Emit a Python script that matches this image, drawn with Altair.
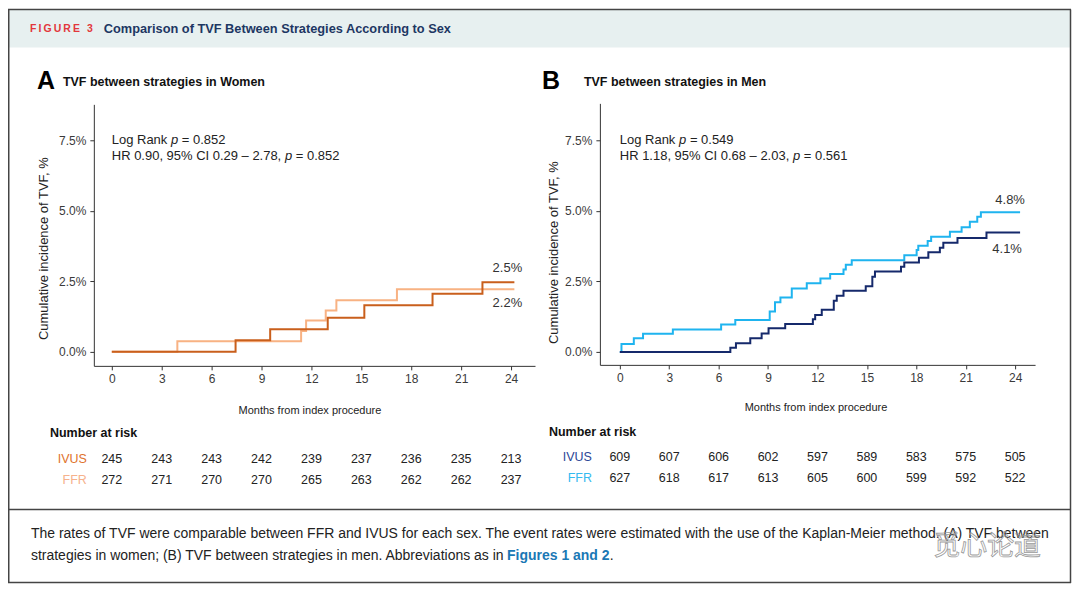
import altair as alt
import pandas as pd

W, H = 1066, 576
FONT = "Liberation Sans"

# ---------------- data ----------------
tick_months = [0, 3, 6, 9, 12, 15, 18, 21, 24]
y_ticks = [0.0, 2.5, 5.0, 7.5]

women_ivus_month = [0, 7.44, 9.52, 12.98, 15.18, 19.28, 22.28, 24.2]
women_ivus_pct = [0, 0.41, 0.80, 1.21, 1.65, 2.06, 2.46, 2.46]
women_ffr_month = [0, 3.94, 11.38, 11.68, 12.86, 13.50, 17.14, 24.2]
women_ffr_pct = [0, 0.37, 0.74, 1.11, 1.46, 1.83, 2.22, 2.22]

men_ivus_month = [0, 6.71, 7.05, 7.92, 8.61, 9.03, 10.04, 11.72, 11.86, 12.26, 12.99, 13.17,
                  13.58, 14.93, 15.33, 15.49, 17.07, 17.27, 18.16, 18.73, 19.43, 19.64, 20.50,
                  22.26, 24.3]
men_ivus_pct = [0, 0.15, 0.31, 0.48, 0.65, 0.84, 0.99, 1.16, 1.31, 1.49, 1.81, 1.99,
                2.17, 2.33, 2.66, 2.85, 3.02, 3.17, 3.34, 3.53, 3.69, 3.87, 4.04,
                4.23, 4.23]
men_ffr_month = [0, 0.10, 0.85, 1.41, 3.22, 6.15, 7.01, 9.10, 9.42, 9.75, 10.44, 11.35,
                 12.18, 12.77, 13.58, 13.72, 14.08, 17.27, 18.02, 18.12, 18.69, 18.90,
                 20.04, 20.75, 21.25, 21.70, 21.92, 24.3]
men_ffr_pct = [0, 0.28, 0.48, 0.64, 0.79, 0.97, 1.13, 1.43, 1.76, 1.93, 2.25, 2.43,
               2.60, 2.76, 2.92, 3.09, 3.25, 3.43, 3.61, 3.76, 3.93, 4.08,
               4.26, 4.42, 4.61, 4.79, 4.95, 4.95]

women_ivus_risk = [245, 243, 243, 242, 239, 237, 236, 235, 213]
women_ffr_risk = [272, 271, 270, 270, 265, 263, 262, 262, 237]
men_ivus_risk = [609, 607, 606, 602, 597, 589, 583, 575, 505]
men_ffr_risk = [627, 618, 617, 613, 605, 600, 599, 592, 522]

women_end_labels = ["2.5%", "2.2%"]   # IVUS, FFR
men_end_labels = ["4.1%", "4.8%"]     # IVUS, FFR

women_stats = ["Log Rank", "p", "= 0.852", "HR 0.90, 95% CI 0.29 \u2013 2.78,", "p", "= 0.852"]
men_stats = ["Log Rank", "p", "= 0.549", "HR 1.18, 95% CI 0.68 \u2013 2.03,", "p", "= 0.561"]

fig_label = "F\u2009I\u2009G\u2009U\u2009R\u2009E\u2009 \u20093"
fig_title = "Comparison of TVF Between Strategies According to Sex"
panel_titles = ["TVF between strategies in Women", "TVF between strategies in Men"]
panel_letters = ["A", "B"]
caption_1 = ("The rates of TVF were comparable between FFR and IVUS for each sex. The event rates "
             "were estimated with the use of the Kaplan-Meier method. (A) TVF between")
caption_2a = "strategies in women; (B) TVF between strategies in men. Abbreviations as in"
caption_2b = "Figures 1 and 2"
watermark = "\u89c5\u5fc3\u8bba\u9053"

# ---------------- helpers ----------------
one = pd.DataFrame({"k": [0]})


def txt(s, x, y, size=12, weight="normal", color="#222", align="left", style="normal", **kw):
    return alt.Chart(pd.DataFrame({"label": [s]})).mark_text(
        font=kw.pop("font", FONT), fontSize=size, fontWeight=weight, color=color, align=align,
        baseline="middle", fontStyle=style, **kw
    ).encode(x=alt.value(x), y=alt.value(y), text="label:N")


def rule(x, x2, y, y2, color="#555", w=1.5):
    return alt.Chart(one).mark_rule(color=color, strokeWidth=w).encode(
        x=alt.value(x), x2=alt.value(x2), y=alt.value(y), y2=alt.value(y2))


def panel(p):
    xs = alt.Scale(domain=p["xdom"], range=p["xrange"], nice=False, zero=False)
    ys = alt.Scale(domain=p["ydom"], range=p["yrange"], nice=False, zero=False)
    common = dict(grid=False, domainColor="#333", domainWidth=1, tickColor="#333", tickWidth=1,
                  tickSize=4, labelFont=FONT, labelFontSize=12, labelColor="#3a3a3a",
                  labelPadding=4, titleFont=FONT, titleFontWeight="normal", titleColor="#222",
                  labelOverlap=False, labelFlush=False, titleAlign="center",
                  titleBaseline="middle")
    xax = alt.Axis(orient="bottom", offset=-(H - p["xaxis_y"]), values=tick_months, format="d",
                   title="Months from index procedure", titleFontSize=11, titleAngle=0,
                   titleX=p["xtitle"][0], titleY=p["xtitle"][1], **common)
    yax = alt.Axis(orient="left", offset=-p["yaxis_x"], values=y_ticks,
                   labelExpr="format(datum.value, '.1f') + '%'",
                   title="Cumulative incidence of TVF, %", titleFontSize=13, titleAngle=270,
                   titleX=p["ytitle"][0], titleY=p["ytitle"][1], **common)
    X = alt.X("month:Q", scale=xs, axis=xax)
    Y = alt.Y("pct:Q", scale=ys, axis=yax)

    layers = []
    for (mon, pct, col) in [(p["ffr"][0], p["ffr"][1], p["ffr_col"]),
                            (p["ivus"][0], p["ivus"][1], p["ivus_col"])]:
        df = pd.DataFrame({"month": mon, "pct": pct})
        layers.append(alt.Chart(df).mark_line(interpolate="step-after", color=col,
                                              strokeWidth=2).encode(x=X, y=Y))
    # end labels
    for (mon, pct, lab, dx, dy) in p["ends"]:
        df = pd.DataFrame({"month": [mon], "pct": [pct], "label": [lab]})
        layers.append(alt.Chart(df).mark_text(font=FONT, fontSize=13, color="#333",
                                              align="center", baseline="middle", dx=dx, dy=dy)
                      .encode(x=X, y=Y, text="label:N"))
    # statistics annotation, anchored at month 0 / 7.5 %
    s = p["stats"]
    pieces = [(s[0], 0, 0, "normal"), (s[1], 59.3, 0, "italic"), (s[2], 70.2, 0, "normal"),
              (s[3], 0, 16, "normal"), (s[4], 173.4, 16, "italic"), (s[5], 184.3, 16, "normal")]
    for (lab, dx, dy, st) in pieces:
        df = pd.DataFrame({"month": [0], "pct": [7.5], "label": [lab]})
        layers.append(alt.Chart(df).mark_text(font=FONT, fontSize=13, color="#222",
                                              align="left", baseline="middle", dx=dx, dy=dy,
                                              fontStyle=st)
                      .encode(x=X, y=Y, text="label:N"))
    # number at risk
    for (counts, ypix) in [(p["risk_ivus"], p["risk_y"][0]), (p["risk_ffr"], p["risk_y"][1])]:
        df = pd.DataFrame({"month": tick_months, "n": counts})
        layers.append(alt.Chart(df).mark_text(font=FONT, fontSize=12.5, color="#222",
                                              align="center", baseline="middle")
                      .encode(x=X, y=alt.value(ypix), text="n:Q"))
    return alt.layer(*layers)


left = panel(dict(
    xdom=[-1.08, 25.44], xrange=[86, 528], ydom=[-0.5, 8.77], yrange=[358, 96],
    xaxis_y=358, yaxis_x=86, xtitle=(302, 45), ytitle=(-50, 240),
    ivus=(women_ivus_month, women_ivus_pct), ffr=(women_ffr_month, women_ffr_pct),
    ivus_col="#c95f1c", ffr_col="#f8b283",
    ends=[(24.2, women_ivus_pct[-1], women_end_labels[0], -7, -14),
          (24.2, women_ffr_pct[-1], women_end_labels[1], -7, 14)],
    stats=women_stats, risk_ivus=women_ivus_risk, risk_ffr=women_ffr_risk, risk_y=(451, 472)))

right = panel(dict(
    xdom=[-1.21, 25.21], xrange=[593, 1029], ydom=[-0.46, 8.81], yrange=[357, 95],
    xaxis_y=357, yaxis_x=593, xtitle=(809, 43), ytitle=(-46, 244),
    ivus=(men_ivus_month, men_ivus_pct), ffr=(men_ffr_month, men_ffr_pct),
    ivus_col="#15296b", ffr_col="#1fb4ef",
    ends=[(24.3, men_ivus_pct[-1], men_end_labels[0], -13, 16),
          (24.3, men_ffr_pct[-1], men_end_labels[1], -10, -12)],
    stats=men_stats, risk_ivus=men_ivus_risk, risk_ffr=men_ffr_risk, risk_y=(449.5, 470)))

deco = [
    alt.Chart(one).mark_rect(color="#e7f0f0").encode(
        x=alt.value(0), x2=alt.value(W - 1), y=alt.value(1), y2=alt.value(39)),
    rule(0, W - 1, 1, 1, "#444", 1.5),
    rule(0.75, 0.75, 1, H - 0.5, "#444", 1.5),
    rule(W - 1.5, W - 1.5, 1, H - 0.5, "#444", 1.5),
    rule(0, W - 1, 502, 502, "#444", 1.5),
    rule(0, W - 1, H - 1, H - 1, "#444", 1.5),
    txt(fig_label, 22, 21, 10.5, "bold", "#e2373c"),
    txt(fig_title, 96, 21, 12.8, "bold", "#1d3763"),
    txt(panel_letters[0], 29, 73, 25, "bold", "#000"),
    txt(panel_titles[0], 55, 74, 12.5, "bold", "#111"),
    txt(panel_letters[1], 535, 73, 25, "bold", "#000"),
    txt(panel_titles[1], 577, 74, 12.5, "bold", "#111"),
    txt("Number at risk", 42, 425, 12.5, "bold", "#111"),
    txt("Number at risk", 542, 424, 12.5, "bold", "#111"),
    txt("IVUS", 79, 451, 12.5, "normal", "#e0722c", "right"),
    txt("FFR", 79, 472, 12.5, "normal", "#f6b28c", "right"),
    txt("IVUS", 585, 449.5, 12.5, "normal", "#2c4696", "right"),
    txt("FFR", 585, 470, 12.5, "normal", "#35baf0", "right"),
    txt(caption_1, 23, 526, 14, "normal", "#222"),
    txt(caption_2a, 23, 548, 14, "normal", "#222"),
    txt(caption_2b, 500, 548, 14, "bold", "#1a78b5"),
    txt(".", 603, 548, 14, "normal", "#222"),
    txt(watermark, 927, 539, 27, "normal", "transparent", font="Noto Sans CJK SC",
        stroke="#9a9a9a", strokeWidth=0.8),
]

chart = alt.layer(*deco, left, right).resolve_scale(
    x="independent", y="independent"
).properties(
    width=W, height=H, padding=0, autosize=alt.AutoSizeParams(type="none"),
    background="white"
).configure_view(stroke=None)

chart.save("out.html", embed_options={"renderer": "svg", "actions": False})
